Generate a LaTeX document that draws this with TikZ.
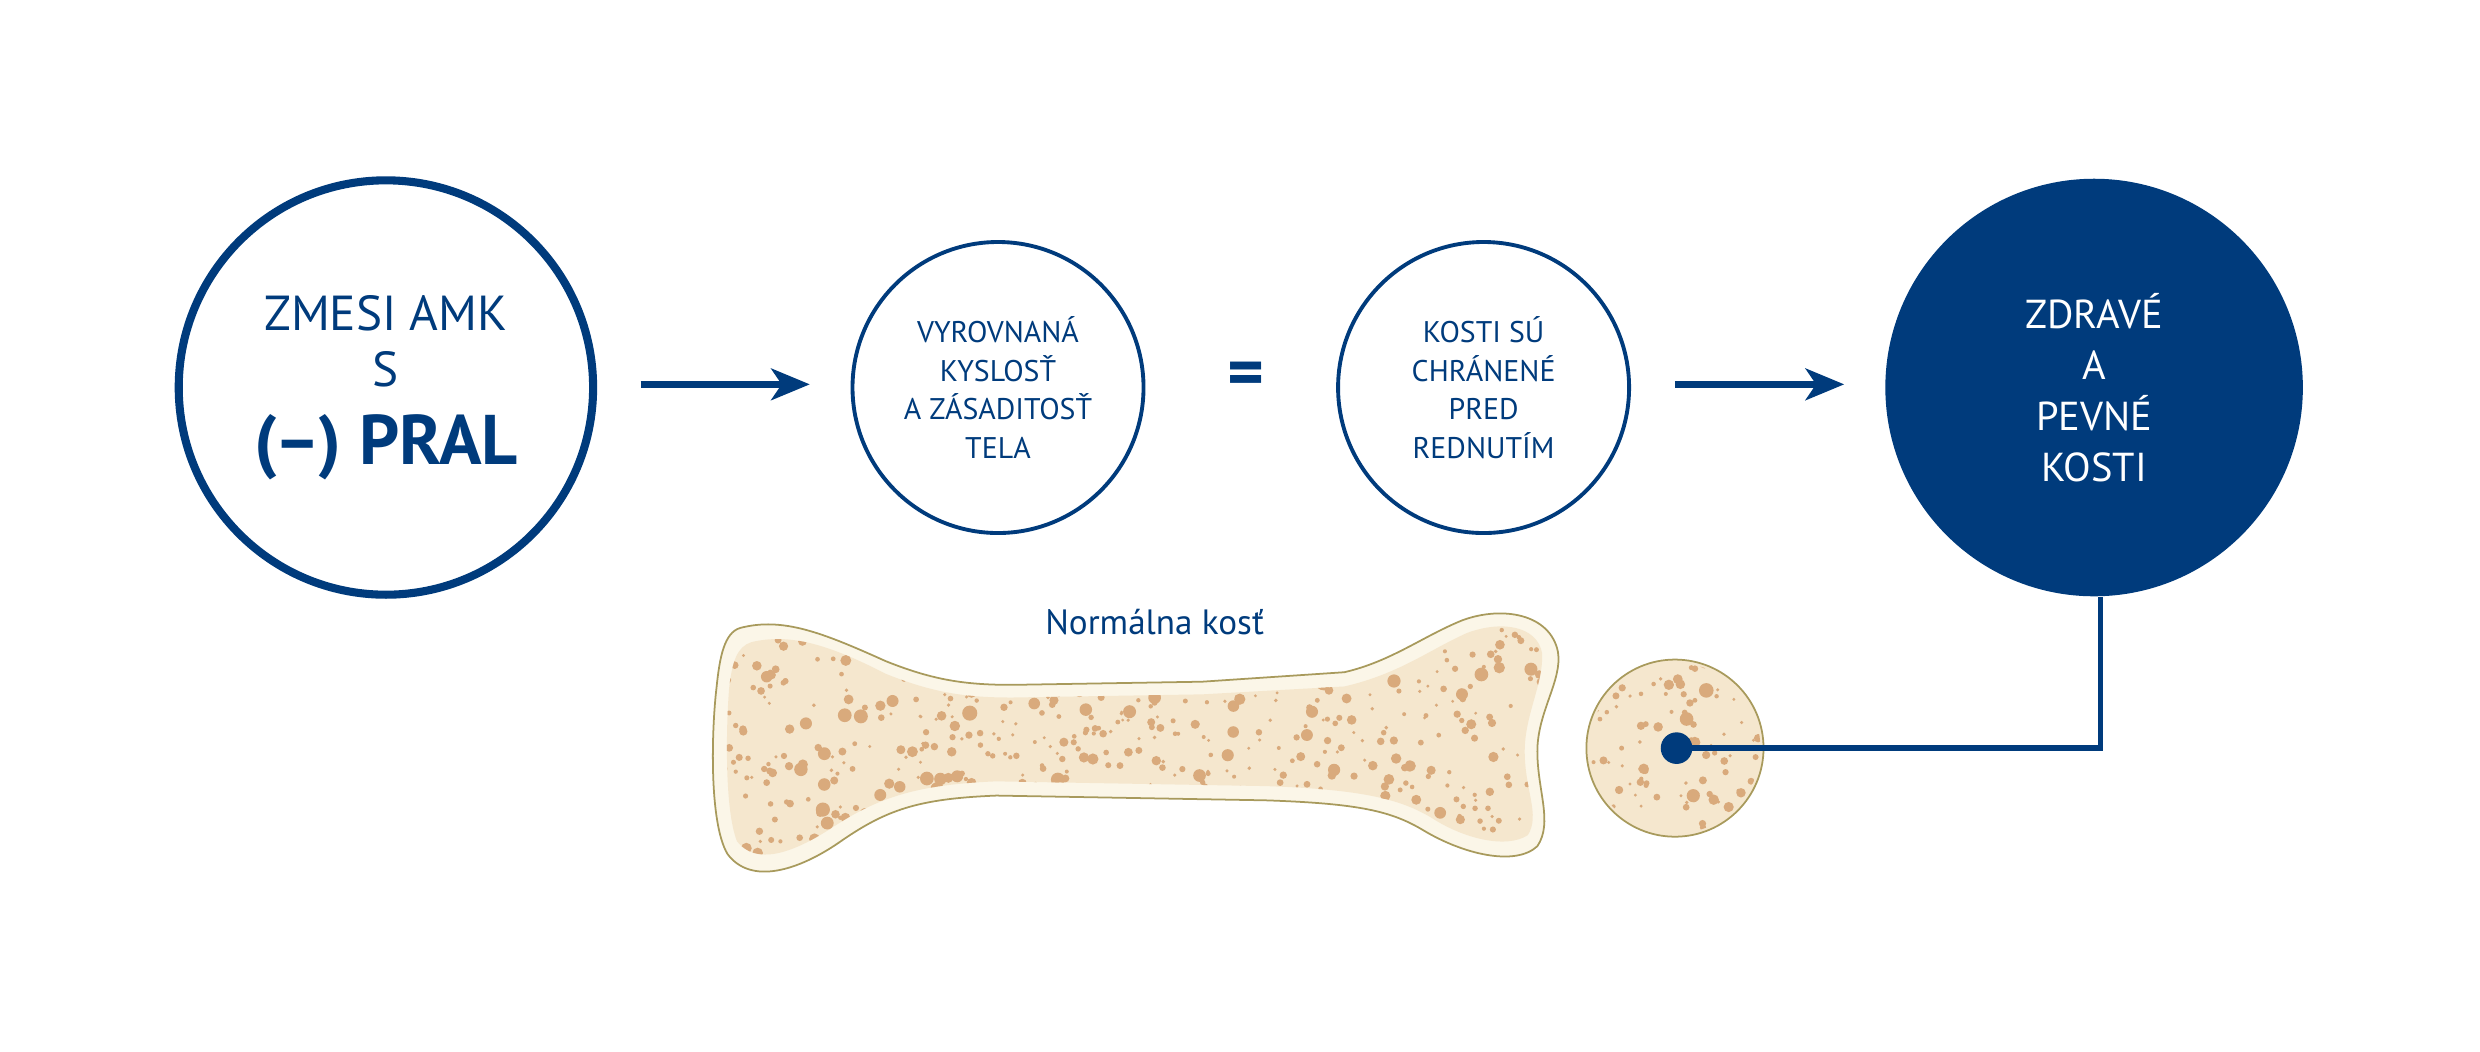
\documentclass[tikz,border=0pt]{standalone}
\usepackage{fontspec}
\setmainfont{PT Sans}
\usetikzlibrary{arrows.meta}
\definecolor{nblue}{HTML}{003B7C}
\definecolor{boneout}{HTML}{FBF6E8}
\definecolor{bonein}{HTML}{F5E7CE}
\definecolor{boneline}{HTML}{A89A5C}
\definecolor{dotc}{HTML}{D9AA7C}
\newlength{\dpx}\setlength{\dpx}{0.015816cm}
\tikzset{
 ring/.style={circle,draw=nblue,line width=1.1pt,minimum size=184\dpx,inner sep=0pt,align=center,text=nblue,font=\fontsize{8.5}{11}\selectfont},
 flow/.style={draw=nblue,line width=1.8pt,-{Stealth[length=11pt,width=9pt,inset=3pt]}},
}
\begin{document}
\begin{tikzpicture}[x=0.015816cm,y=-0.015816cm]
\useasboundingbox (0,0) rectangle (1568,664.5);
% circles
\node[circle,draw=nblue,line width=2.3pt,minimum size=262\dpx,inner sep=0pt,align=center,text=nblue,font=\fontsize{14}{16}\selectfont] (c1) at (244,245)
 {ZMESI AMK\\S\\[6pt]{\fontsize{20}{22}\selectfont\bfseries (–) PRAL}};
\node[ring] (c2) at (631,245) {VYROVNANÁ\\KYSLOSŤ\\A ZÁSADITOSŤ\\TELA};
\node[text=nblue,font=\fontsize{20}{20}\selectfont\bfseries] (eq) at (788,240) {=};
\node[ring] (c3) at (938,245) {KOSTI SÚ\\CHRÁNENÉ\\PRED\\REDNUTÍM};
\node[circle,fill=nblue,minimum size=264\dpx,inner sep=0pt,align=center,text=white,font=\fontsize{11.5}{14.5}\selectfont] (c4) at (1324,245) {ZDRAVÉ\\A\\PEVNÉ\\KOSTI};
\coordinate (a1s) at (405,243); \coordinate (a1e) at (512,243);
\coordinate (a2s) at (1059,243); \coordinate (a2e) at (1166,243);
\draw[flow] (a1s) -- (a1e);
\draw[flow] (a2s) -- (a2e);
% bone
\def\outerbone{(468,397) .. controls (495,390) and (520,400) .. (560,418) .. controls (590,430) and (610,433) .. (640,433) -- (760,431) -- (850,425) .. controls (880,418) and (900,402) .. (925,392) .. controls (950,383) and (980,388) .. (985,412) .. controls (988,430) and (972,450) .. (972,475) .. controls (972,500) and (982,520) .. (972,535) .. controls (958,548) and (925,540) .. (900,525) .. controls (880,513) and (860,508) .. (800,506) -- (630,503) .. controls (580,505) and (560,512) .. (530,533) .. controls (505,550) and (475,560) .. (460,540) .. controls (448,520) and (450,460) .. (453,435) .. controls (455,415) and (458,400) .. (468,397) -- cycle}
\def\innerbone{(475,406) .. controls (500,400) and (525,408) .. (560,426) .. controls (590,438) and (610,441) .. (640,441) -- (760,439) -- (850,434) .. controls (885,426) and (905,410) .. (928,400) .. controls (950,392) and (972,396) .. (975,413) .. controls (976,432) and (964,452) .. (964,475) .. controls (964,500) and (974,515) .. (966,528) .. controls (952,537) and (925,530) .. (905,517) .. controls (885,505) and (860,499) .. (800,497) -- (630,494) .. controls (580,496) and (555,504) .. (525,524) .. controls (500,540) and (478,547) .. (466,532) .. controls (458,512) and (459,460) .. (461,435) .. controls (463,418) and (466,409) .. (475,406) -- cycle}
\fill[boneout] \outerbone;
\fill[bonein] \innerbone;
\begin{scope}
\clip \innerbone;
\pgfmathsetseed{7}
\foreach \i in {1,...,750}{
 \pgfmathsetmacro\px{455+rnd*525}
 \pgfmathsetmacro\py{390+rnd*160}
 \pgfmathsetmacro\pr{1+rnd*rnd*4}
 \fill[dotc] (\px,\py) circle[radius=\pr];
}
\end{scope}
\draw[boneline,line width=0.5pt] \outerbone;
\node[text=nblue,font=\fontsize{10}{12}\selectfont] (lbl) at (730,393) {Normálna kosť};
% cross section
\node[circle,draw=boneline,line width=0.5pt,fill=bonein,minimum size=112\dpx,inner sep=0pt] (cs) at (1059,473) {};
\begin{scope}
\clip (1059,473) circle[radius=54];
\pgfmathsetseed{11}
\foreach \i in {1,...,110}{
 \pgfmathsetmacro\px{1003+rnd*112}
 \pgfmathsetmacro\py{417+rnd*112}
 \pgfmathsetmacro\pr{1+rnd*rnd*4}
 \fill[dotc] (\px,\py) circle[radius=\pr];
}
\end{scope}
\node[circle,fill=nblue,minimum size=20\dpx,inner sep=0pt] (dot) at (1060,473) {};
\coordinate (corner) at (1328,473);
\draw[nblue,line width=1.6pt] (c4.south) ++(4,0) coordinate (c4b) -- (corner) -- (dot.center);
\end{tikzpicture}
\end{document}
